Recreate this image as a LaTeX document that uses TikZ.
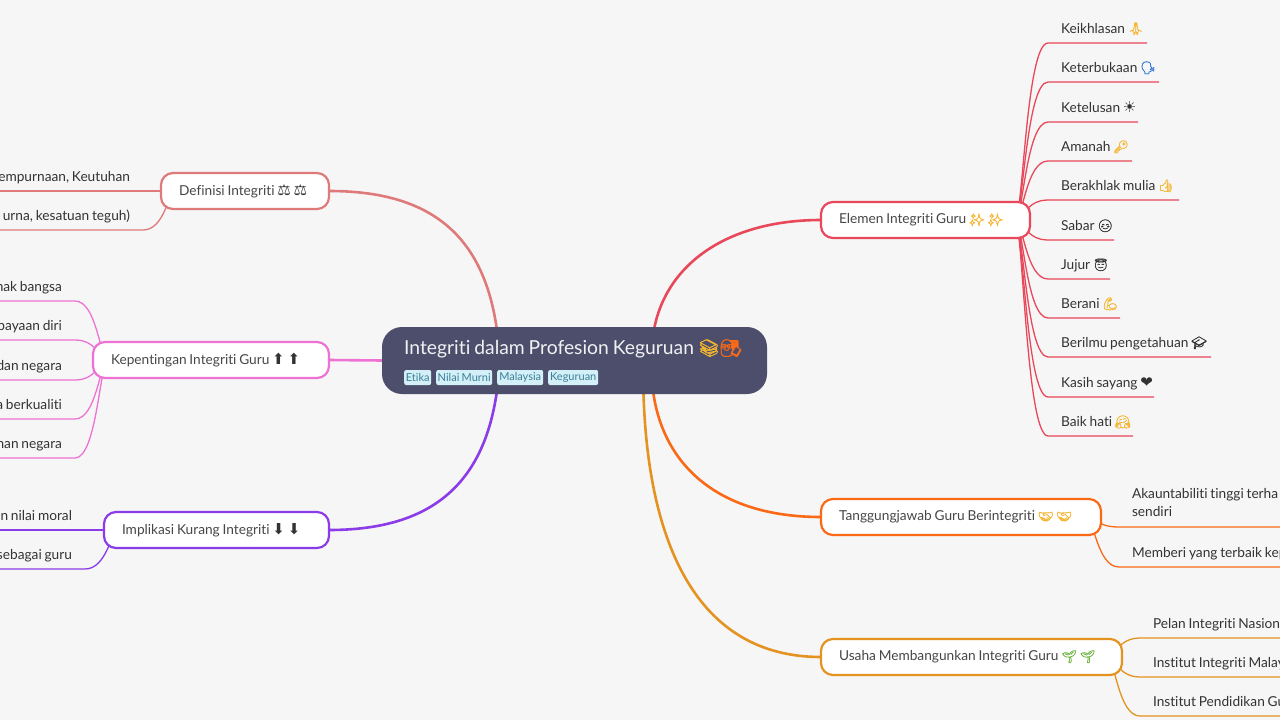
\documentclass[tikz,border=0pt]{standalone}
\usepackage{fontspec}
\setmainfont{Lato}[Ligatures = NoCommon, WordSpace = 0.8]
\newfontfamily\emojifont[Scale = 0.9, FakeBold = 1.2]{Noto Emoji}
\newfontfamily\glyphfont[Scale = 1.1]{DejaVu Sans}
\usetikzlibrary{backgrounds}
\definecolor{pagebg}{HTML}{F6F6F6}
\definecolor{roottone}{HTML}{4C4E6B}
\definecolor{tagfill}{HTML}{D3F0F8}
\definecolor{tagtext}{HTML}{3C7F96}
\definecolor{inktext}{HTML}{333333}
\definecolor{elemencol}{HTML}{E8485A}
\definecolor{tanggungcol}{HTML}{F96916}
\definecolor{usahacol}{HTML}{E49320}
\definecolor{definisicol}{HTML}{E07A7A}
\definecolor{pentingcol}{HTML}{EE72D3}
\definecolor{implikasicol}{HTML}{8B3CE8}
\definecolor{sunnycol}{HTML}{F5B52E}
\definecolor{sproutcol}{HTML}{6DB33F}
\definecolor{speechcol}{HTML}{2A6FD6}
\newcommand{\emo}[2]{{\color{#1}\emojifont #2}}
\newcommand{\sym}[1]{{\color{inktext}\glyphfont #1}}
\tikzset{
    branch/.style = {draw = #1, fill = white, rounded corners = 12pt, line width = 2.2pt,
        inner xsep = 18pt, inner ysep = 0pt, outer sep = 0pt, minimum height = 36pt,
        align = flush left, text = inktext!90, font = \fontsize{13.7}{18}\selectfont},
    leaf/.style = {inner xsep = 0pt, inner ysep = 0pt, outer sep = 0pt, text depth = 10pt,
        text = inktext, font = \fontsize{13.7}{18}\selectfont},
    tagbox/.style = {fill = tagfill, rounded corners = 2pt, inner xsep = 0pt, inner ysep = 0pt,
        minimum height = 15pt, anchor = west, text = tagtext, font = \fontsize{11}{13}\selectfont},
    trunk/.style = {draw = #1, line width = 2.6pt},
    twig/.style = {draw = #1, line width = 1.3pt},
}
\begin{document}
\begin{tikzpicture}[x = 1pt, y = -1pt]
    \useasboundingbox (0,0) rectangle (1280,720);
    \coordinate (leftedge) at (0,0);
    \begin{scope}[on background layer]
        \fill [pagebg] (0,0) rectangle (1280,720);
    \end{scope}

    \node (root) [fill = roottone, rounded corners = 20pt, minimum width = 385pt, minimum height = 67pt,
        outer sep = 0pt] at (574.5,360.5) {};
    \node (title) [anchor = base west, inner sep = 0pt, text = white!92!roottone,
        font = \fontsize{19.3}{22}\selectfont] at (404,354)
        {Integriti dalam Profesion Keguruan \emo{sunnycol}{📚}\emo{tanggungcol}{🧑‍🏫}};
    \node (etika) [tagbox, minimum width = 27pt] at (404,377.5) {Etika};
    \node (nilai) [tagbox, minimum width = 56pt] at (436,377.5) {Nilai Murni};
    \node (malaysia) [tagbox, minimum width = 46pt] at (497,377.5) {Malaysia};
    \node (keguruan) [tagbox, minimum width = 50pt] at (548,377.5) {Keguruan};

    \node (elemen) [branch = elemencol, text width = 173pt] at (925.5,220)
        {\mbox{Elemen Integriti Guru \emo{sunnycol}{✨} \emo{sunnycol}{✨}}};
    \node (tanggung) [branch = tanggungcol, text width = 244pt] at (961,517)
        {\mbox{Tanggungjawab Guru Berintegriti \emo{sunnycol}{🤝} \emo{sunnycol}{🤝}}};
    \node (usaha) [branch = usahacol, text width = 265pt] at (971.5,657)
        {\mbox{Usaha Membangunkan Integriti Guru \emo{sproutcol}{🌱} \emo{sproutcol}{🌱}}};
    \node (definisi) [branch = definisicol, text width = 132pt] at (245,191)
        {\mbox{Definisi Integriti \sym{⚖} \sym{⚖}}};
    \node (penting) [branch = pentingcol, text width = 200pt] at (211,360)
        {\mbox{Kepentingan Integriti Guru \sym{⬆} \sym{⬆}}};
    \node (implikasi) [branch = implikasicol, text width = 189pt] at (216.5,530)
        {\mbox{Implikasi Kurang Integriti \sym{⬇} \sym{⬇}}};

    \begin{scope}[on background layer]
        \draw [trunk = elemencol] ([xshift = 80pt]root.north) .. controls (668,262) and (730,220) .. (elemen.west);
        \draw [trunk = tanggungcol] ([xshift = 79pt]root.south) .. controls (664,465) and (718,517) .. (tanggung.west);
        \draw [trunk = usahacol] ([xshift = 69pt]root.south) .. controls (648,540) and (695,657) .. (usaha.west);
        \draw [trunk = definisicol] ([xshift = -78pt]root.north) .. controls (482,230) and (425,191) .. (definisi.east);
        \draw [trunk = pentingcol] (root.west) -- (penting.east);
        \draw [trunk = implikasicol] ([xshift = -78pt]root.south) .. controls (482,490) and (425,530) .. (implikasi.east);
    \end{scope}

    % right side leaves
    \foreach \nm/\yy/\ww/\txt in {
        ea/43/86/{Keikhlasan \emo{sunnycol}{🙏}},
        eb/82/98/{Keterbukaan \emo{speechcol}{🗣}},
        ec/122/77/{Ketelusan \sym{☀}},
        ed/161/71/{Amanah \emo{sunnycol}{🔑}},
        ee/200/118/{Berakhlak mulia \emo{sunnycol}{👍}},
        ef/240/53/{Sabar \emo{inktext}{😊}},
        eg/279/49/{Jujur \emo{inktext}{😇}},
        eh/318/59/{Berani \emo{sunnycol}{💪}},
        ei/357/150/{Berilmu pengetahuan \emo{inktext}{🎓}},
        ej/397/93/{Kasih sayang \sym{❤}},
        ek/436/72/{Baik hati \emo{sunnycol}{🤗}}} {
        \node (\nm) [leaf, anchor = south west, align = flush left, text width = \ww pt] at (1061,\yy) {\mbox{\txt}};
        \begin{scope}[on background layer]
            \draw [twig = elemencol] ([xshift = -15pt]elemen.east) .. controls +(8,0) and +(-22,0)
                .. ([xshift = -13pt]\nm.south west) -- (\nm.south east);
        \end{scope}
    }
    \foreach \nm/\yy/\dd/\txt in {
        ta/527/29/{\mbox{Akauntabiliti tinggi terha}\\sendiri},
        tb/567/10/{\mbox{Memberi yang terbaik kep}}} {
        \node (\nm) [leaf, anchor = south west, text width = 148pt, align = flush left, text depth = \dd pt] at (1132,\yy) {\txt};
        \begin{scope}[on background layer]
            \draw [twig = tanggungcol] ([xshift = -15pt]tanggung.east) .. controls +(8,0) and +(-22,0)
                .. ([xshift = -13pt]\nm.south west) -- (\nm.south east);
        \end{scope}
    }
    \foreach \nm/\yy/\txt in {
        ua/638/{Pelan Integriti Nasion},
        ub/677/{Institut Integriti Malay},
        uc/716/{Institut Pendidikan Gu}} {
        \node (\nm) [leaf, anchor = south west, align = flush left, text width = 127pt] at (1153,\yy) {\mbox{\txt}};
        \begin{scope}[on background layer]
            \draw [twig = usahacol] ([xshift = -15pt]usaha.east) .. controls +(8,0) and +(-22,0)
                .. ([xshift = -13pt]\nm.south west) -- (\nm.south east);
        \end{scope}
    }

    % left side leaves
    \foreach \nm/\yy/\txt in {
        da/191/{empurnaan, Keutuhan},
        db/230/{urna, kesatuan teguh)}} {
        \node (\nm) [leaf, anchor = south east] at (130,\yy) {\txt};
        \begin{scope}[on background layer]
            \draw [twig = definisicol] ([xshift = 15pt]definisi.west) .. controls +(-8,0) and +(22,0)
                .. ([xshift = 13pt]\nm.south east) -- (\nm.south east -| leftedge);
        \end{scope}
    }
    \foreach \nm/\yy/\txt in {
        pa/301/{nak bangsa},
        pb/340/{payaan diri},
        pc/380/{dan negara},
        pd/419/{a berkualiti},
        pe/458/{nan negara}} {
        \node (\nm) [leaf, anchor = south east] at (62,\yy) {\txt};
        \begin{scope}[on background layer]
            \draw [twig = pentingcol] ([xshift = 15pt]penting.west) .. controls +(-8,0) and +(22,0)
                .. ([xshift = 13pt]\nm.south east) -- (\nm.south east -| leftedge);
        \end{scope}
    }
    \foreach \nm/\yy/\txt in {
        ia/530/{n nilai moral},
        ib/569/{sebagai guru}} {
        \node (\nm) [leaf, anchor = south east] at (72,\yy) {\txt};
        \begin{scope}[on background layer]
            \draw [twig = implikasicol] ([xshift = 15pt]implikasi.west) .. controls +(-8,0) and +(22,0)
                .. ([xshift = 13pt]\nm.south east) -- (\nm.south east -| leftedge);
        \end{scope}
    }
\end{tikzpicture}
\end{document}
